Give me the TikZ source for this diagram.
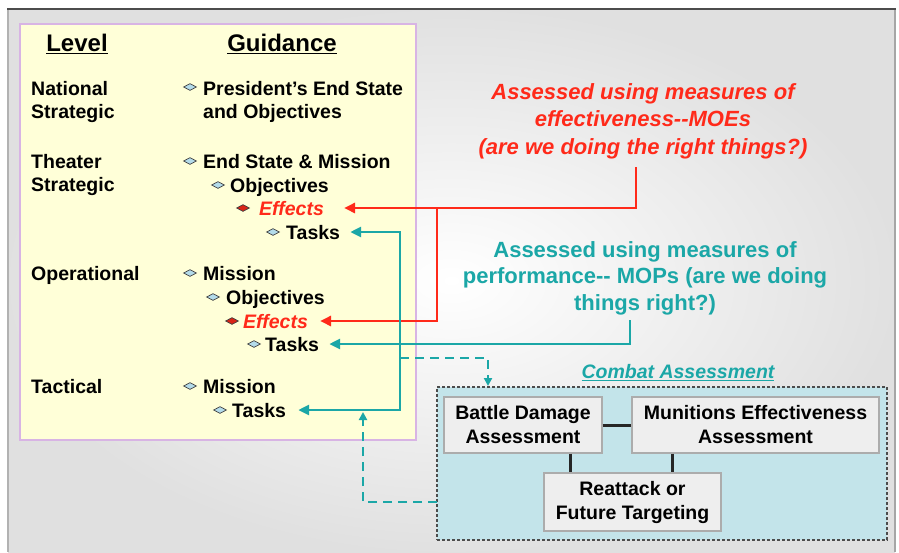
\documentclass[tikz,border=0pt]{standalone}
\usepackage{fontspec}
\setmainfont{Liberation Sans}
\usetikzlibrary{arrows.meta,shapes.geometric,calc}
\definecolor{myred}{HTML}{FF2A1A}
\definecolor{myteal}{HTML}{1BA7A7}
\definecolor{ylw}{HTML}{FFFFD8}
\definecolor{ylwborder}{HTML}{D8B4E4}
\definecolor{cabg}{HTML}{C3E4EA}
\definecolor{boxbg}{HTML}{EEEEEE}
\definecolor{bulblue}{HTML}{B4DCEA}
\begin{document}
\begin{tikzpicture}[x=1pt,y=-1pt,
  txt/.style={anchor=west, inner sep=0pt, font=\fontsize{19.5}{23}\selectfont\bfseries, text height=14pt, text depth=0pt},
  redtxt/.style={txt, text=myred, font=\fontsize{19.5}{23}\selectfont\bfseries\itshape},
  hd/.style={inner sep=0pt, font=\fontsize{24}{28}\selectfont\bfseries},
  bul/.style={diamond, draw=gray!50!black, fill=bulblue, line width=0.7pt, minimum width=13pt, minimum height=7pt, inner sep=0pt},
  redbul/.style={bul, fill=myred!85!black},
  redln/.style={draw=myred, line width=2.7pt},
  tealln/.style={draw=myteal, line width=2.7pt},
  tealdash/.style={draw=myteal, line width=2.6pt, dash pattern=on 9pt off 6pt},
  bigtip/.tip={Triangle[length=11pt,width=10pt]},
  smalltip/.tip={Triangle[length=8pt,width=8pt]},
  cabox/.style={draw=gray!65, fill=boxbg, line width=1.2pt, align=center, inner sep=0pt, font=\fontsize{19.5}{24}\selectfont\bfseries},
  conn/.style={draw=black!85, line width=3pt}
]
\useasboundingbox (0,0) rectangle (899,552);
% background frame
\fill[white] (0,0) rectangle (899,552);
\shade[inner color=white, outer color=gray!24] (8,9) rectangle (895,552);
\draw[gray!60, line width=1.5pt] (8,9) -- (8,552);
\draw[gray!70, line width=2pt] (895,9) -- (895,552);
\draw[black!70, line width=2pt] (7,9) -- (896,9);

% yellow panel
\node[draw=ylwborder, fill=ylw, line width=1.2pt, minimum width=396pt, minimum height=416pt, inner sep=0pt] (panel) at (218,232) {};

% headings
\node[hd] (hlevel) at (77,44) {\underline{Level}};
\node[hd] (hguid) at (282,44) {\underline{Guidance}};

% levels
\node[txt] (nat1) at (31,88) {National};
\node[txt] (nat2) at (31,111) {Strategic};
\node[txt] (th1) at (31,161) {Theater};
\node[txt] (th2) at (31,184) {Strategic};
\node[txt] (opl) at (31,273) {Operational};
\node[txt] (tacl) at (31,386) {Tactical};

% guidance
\node[bul] (b1) at (190,87) {};
\node[txt] (g1) at (203,88) {President's End State};
\node[txt] (g1b) at (203,111) {and Objectives};
\node[bul] (b2) at (190,161) {};
\node[txt] (g2) at (203,161) {End State \& Mission};
\node[bul] (b3) at (218,185) {};
\node[txt] (g3) at (230,185) {Objectives};
\node[redbul] (b4) at (243,208) {};
\node[redtxt] (eff1) at (259,208) {Effects};
\node[bul] (b5) at (273,232) {};
\node[txt] (tasks1) at (286,232) {Tasks};
\node[bul] (b6) at (190,273) {};
\node[txt] (g6) at (203,273) {Mission};
\node[bul] (b7) at (213,297) {};
\node[txt] (g7) at (226,297) {Objectives};
\node[redbul] (b8) at (232,321) {};
\node[redtxt] (eff2) at (243,321) {Effects};
\node[bul] (b9) at (254,344) {};
\node[txt] (tasks2) at (265,344) {Tasks};
\node[bul] (b10) at (190,386) {};
\node[txt] (g10) at (203,386) {Mission};
\node[bul] (b11) at (220,410) {};
\node[txt] (tasks3) at (232,410) {Tasks};

% assessment texts
\node[align=center, text=myred, inner sep=0pt, font=\fontsize{22}{27.5}\selectfont\bfseries\itshape] (moe) at (643,121)
  {Assessed using measures of\\effectiveness-{}-MOEs\\(are we doing the right things?)};
\node[align=center, text=myteal, inner sep=0pt, font=\fontsize{22}{26.5}\selectfont\bfseries] (mop) at (645,278)
  {Assessed using measures of\\performance-{}- MOPs (are we doing\\things right?)};

% combat assessment
\node[draw=gray!60!black, fill=cabg, line width=1.3pt, densely dashed, minimum width=450pt, minimum height=153pt, inner sep=0pt] (ca) at (662,463.5) {};
\node[inner sep=0pt, text=myteal, font=\fontsize{19.5}{24}\selectfont\bfseries\itshape] (calabel) at (678,373) {\underline{Combat Assessment}};
\node[cabox, minimum width=158pt, minimum height=56pt] (bda) at (523,425) {Battle Damage\\Assessment};
\node[cabox, minimum width=247pt, minimum height=56pt] (mea) at (755.5,425) {Munitions Effectiveness\\Assessment};
\node[cabox, minimum width=177pt, minimum height=58pt] (rea) at (632.5,502) {Reattack or\\Future Targeting};
\coordinate (cx1) at (570,0);
\coordinate (cx2) at (672,0);
\draw[conn] (bda.east) -- (mea.west);
\draw[conn] (bda.south -| cx1) -- (rea.north -| cx1);
\draw[conn] (mea.south -| cx2) -- (rea.north -| cx2);

% red connectors
\coordinate (rs) at (636,167);
\coordinate (rx) at (437,0);
\coordinate (e1end) at ([xshift=20pt]eff1.east);
\coordinate (e2end) at ([xshift=12pt]eff2.east);
\draw[redln, -bigtip] (rs) |- (e1end);
\draw[redln, -bigtip] (e1end -| rx) |- (e2end);

% teal connectors
\coordinate (ts) at (630,320);
\coordinate (t1end) at ([xshift=10pt]tasks1.east);
\coordinate (t2end) at ([xshift=10pt]tasks2.east);
\coordinate (t3end) at ([xshift=12pt]tasks3.east);
\coordinate (tb) at (400,358);
\draw[tealln, -bigtip] (ts) |- (t2end);
\draw[tealln, bigtip-bigtip] (t1end) -| (tb) |- (t3end);
\coordinate (cain) at (488,386);
\draw[tealdash, -smalltip] (tb) -| (cain);
\coordinate (cw) at (437,502);
\coordinate (up) at (363,412);
\draw[tealdash, -smalltip] (cw) -| (up);
\end{tikzpicture}
\end{document}
